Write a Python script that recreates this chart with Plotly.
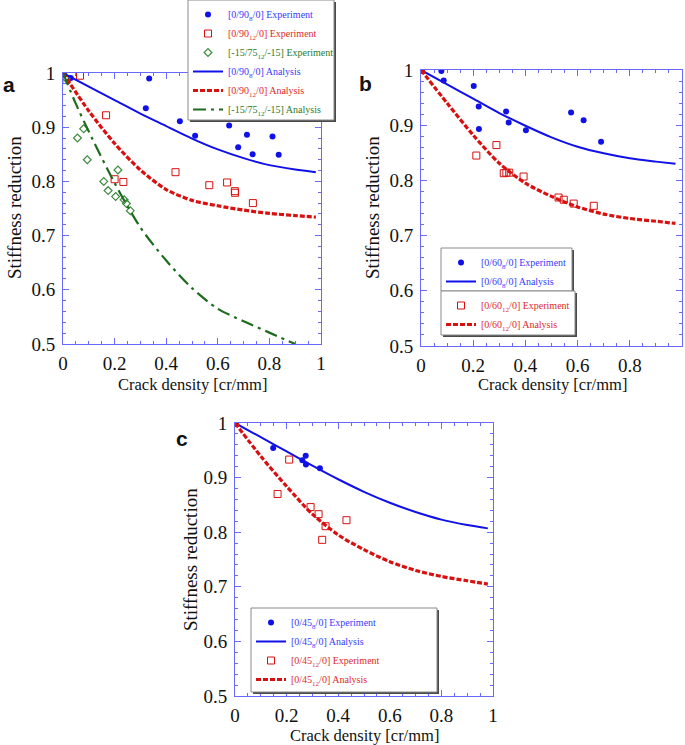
import plotly.graph_objects as go

W, H = 685, 745

# ---------------- Panel a data ----------------
a_exp8_x = [0, 0.03, 0.321, 0.334, 0.453, 0.512, 0.644, 0.679, 0.713, 0.735, 0.812, 0.836]
a_exp8_y = [1, 0.991, 0.935, 0.990, 0.911, 0.884, 0.903, 0.863, 0.886, 0.850, 0.883, 0.849]
a_exp12_x = [0, 0.013, 0.066, 0.167, 0.200, 0.234, 0.436, 0.567, 0.636, 0.666, 0.667, 0.736]
a_exp12_y = [1, 0.987, 0.995, 0.922, 0.804, 0.799, 0.817, 0.793, 0.798, 0.782, 0.779, 0.760]
a_expg_x = [0, 0.012, 0.056, 0.080, 0.094, 0.158, 0.175, 0.204, 0.213, 0.237, 0.246, 0.261]
a_expg_y = [1, 0.990, 0.880, 0.897, 0.840, 0.800, 0.783, 0.772, 0.821, 0.766, 0.759, 0.746]
a_an_x = [0, 0.1, 0.2, 0.3, 0.4, 0.5, 0.6, 0.7, 0.8, 0.9, 0.98]
a_an8_y = [1, 0.975, 0.950, 0.925, 0.902, 0.879, 0.859, 0.843, 0.830, 0.822, 0.817]
a_an12_y = [1, 0.930, 0.870, 0.821, 0.785, 0.765, 0.755, 0.747, 0.741, 0.737, 0.734]
a_ang_x = [0, 0.05, 0.1, 0.2, 0.3, 0.4, 0.5, 0.6, 0.7, 0.8, 0.9]
a_ang_y = [1, 0.943, 0.892, 0.797, 0.715, 0.654, 0.603, 0.565, 0.542, 0.521, 0.500]

# ---------------- Panel b data ----------------
b_exp8_x = [0, 0.078, 0.087, 0.202, 0.221, 0.222, 0.326, 0.336, 0.402, 0.575, 0.623, 0.690]
b_exp8_y = [1, 0.998, 0.981, 0.971, 0.934, 0.893, 0.925, 0.905, 0.891, 0.923, 0.909, 0.870]
b_exp12_x = [0, 0.212, 0.289, 0.317, 0.327, 0.338, 0.393, 0.527, 0.547, 0.585, 0.662]
b_exp12_y = [1, 0.845, 0.864, 0.813, 0.814, 0.814, 0.807, 0.769, 0.765, 0.758, 0.754]
b_an_x = [0, 0.1, 0.2, 0.3, 0.4, 0.5, 0.6, 0.7, 0.8, 0.9, 0.975]
b_an8_y = [1, 0.974, 0.948, 0.922, 0.899, 0.878, 0.861, 0.849, 0.840, 0.834, 0.830]
b_an12_y = [1, 0.940, 0.882, 0.831, 0.795, 0.771, 0.752, 0.739, 0.731, 0.726, 0.722]

# ---------------- Panel c data ----------------
c_exp8_x = [0, 0.148, 0.261, 0.274, 0.275, 0.329]
c_exp8_y = [1, 0.954, 0.932, 0.940, 0.924, 0.917]
c_exp12_x = [0, 0.165, 0.210, 0.293, 0.324, 0.338, 0.351, 0.432]
c_exp12_y = [1, 0.870, 0.933, 0.846, 0.833, 0.786, 0.811, 0.822]
c_an_x = [0, 0.1, 0.2, 0.3, 0.4, 0.5, 0.6, 0.7, 0.8, 0.9, 0.98]
c_an8_y = [1, 0.974, 0.948, 0.922, 0.897, 0.874, 0.854, 0.837, 0.823, 0.813, 0.807]
c_an12_y = [1, 0.939, 0.884, 0.833, 0.795, 0.768, 0.746, 0.730, 0.719, 0.711, 0.705]

# tick labels
x_ticks = [0, 0.2, 0.4, 0.6, 0.8, 1]
x_ticklabels = ["0", "0.2", "0.4", "0.6", "0.8", "1"]
y_ticks = [0.5, 0.6, 0.7, 0.8, 0.9, 1]
y_ticklabels = ["0.5", "0.6", "0.7", "0.8", "0.9", "1"]

BLUE = "#1010e8"
RED = "#d81010"
GREEN = "#1d6b1d"
BLUE_T = "#3a3aff"
RED_T = "#e02a2a"
GREEN_T = "#2a7a2a"
AXC = "#6a6aff"
SERIF = "Liberation Serif"
SANS = "Liberation Sans"


def px(x):
    return x / W


def py(y):
    return 1 - y / H


def lbl(text, color):
    return f'<span style="color:{color}">{text}</span>'


fig = go.Figure()

def dots(x, y, name, axis, legend, color=BLUE):
    fig.add_trace(go.Scatter(x=x, y=y, mode="markers", name=name,
                             marker=dict(symbol="circle", size=6, color=color),
                             xaxis="x" + axis, yaxis="y" + axis, legend=legend))

def squares(x, y, name, axis, legend):
    fig.add_trace(go.Scatter(x=x, y=y, mode="markers", name=name,
                             marker=dict(symbol="square-open", size=7, color=RED,
                                         line=dict(width=1, color=RED)),
                             xaxis="x" + axis, yaxis="y" + axis, legend=legend))

def solid(x, y, name, axis, legend):
    fig.add_trace(go.Scatter(x=x, y=y, mode="lines", name=name,
                             line=dict(color=BLUE, width=2, shape="spline", smoothing=0.8),
                             xaxis="x" + axis, yaxis="y" + axis, legend=legend))

def dashed(x, y, name, axis, legend):
    fig.add_trace(go.Scatter(x=x, y=y, mode="lines", name=name,
                             line=dict(color=RED, width=3.2, dash="5px,2px", shape="spline", smoothing=0.8),
                             xaxis="x" + axis, yaxis="y" + axis, legend=legend))

# Panel a (axis suffix "")
dots(a_exp8_x, a_exp8_y, lbl("[0/90<sub>8</sub>/0] Experiment", BLUE_T), "", "legend")
squares(a_exp12_x, a_exp12_y, lbl("[0/90<sub>12</sub>/0] Experiment", RED_T), "", "legend")
fig.add_trace(go.Scatter(x=a_expg_x, y=a_expg_y, mode="markers",
                         name=lbl("[-15/75<sub>12</sub>/-15] Experiment", GREEN_T),
                         marker=dict(symbol="diamond-open", size=6, color="#3d8a3d",
                                     line=dict(width=1.2, color="#3d8a3d")),
                         xaxis="x", yaxis="y", legend="legend"))
solid(a_an_x, a_an8_y, lbl("[0/90<sub>8</sub>/0] Analysis", BLUE_T), "", "legend")
dashed(a_an_x, a_an12_y, lbl("[0/90<sub>12</sub>/0] Analysis", RED_T), "", "legend")
fig.add_trace(go.Scatter(x=a_ang_x, y=a_ang_y, mode="lines",
                         name=lbl("[-15/75<sub>12</sub>/-15] Analysis", GREEN_T),
                         line=dict(color=GREEN, width=2.2, dash="13px,5px,3px,5px",
                                   shape="spline", smoothing=0.8),
                         xaxis="x", yaxis="y", legend="legend"))

# Panel b
dots(b_exp8_x, b_exp8_y, lbl("[0/60<sub>8</sub>/0] Experiment", BLUE_T), "2", "legend2")
solid(b_an_x, b_an8_y, lbl("[0/60<sub>8</sub>/0] Analysis", BLUE_T), "2", "legend2")
squares(b_exp12_x, b_exp12_y, lbl("[0/60<sub>12</sub>/0] Experiment", RED_T), "2", "legend3")
dashed(b_an_x, b_an12_y, lbl("[0/60<sub>12</sub>/0] Analysis", RED_T), "2", "legend3")

# Panel c
dots(c_exp8_x, c_exp8_y, lbl("[0/45<sub>8</sub>/0] Experiment", BLUE_T), "3", "legend4")
solid(c_an_x, c_an8_y, lbl("[0/45<sub>8</sub>/0] Analysis", BLUE_T), "3", "legend4")
squares(c_exp12_x, c_exp12_y, lbl("[0/45<sub>12</sub>/0] Experiment", RED_T), "3", "legend4")
dashed(c_an_x, c_an12_y, lbl("[0/45<sub>12</sub>/0] Analysis", RED_T), "3", "legend4")

def xax(domain, anchor):
    return dict(domain=domain, anchor=anchor, range=[0, 1], tickvals=x_ticks, ticktext=x_ticklabels,
                ticks="inside", ticklen=6, tickcolor=AXC, showline=True, linecolor=AXC, linewidth=1,
                mirror="allticks", showgrid=False, zeroline=False, automargin=False,
                minor=dict(dtick=0.05, ticks="inside", ticklen=3, tickcolor=AXC, showgrid=False),
                tickfont=dict(family=SERIF, size=19, color="#111"), ticklabelstandoff=2)

def yax(domain, anchor):
    return dict(domain=domain, anchor=anchor, range=[0.5, 1], tickvals=y_ticks, ticktext=y_ticklabels,
                ticks="inside", ticklen=6, tickcolor=AXC, showline=True, linecolor=AXC, linewidth=1,
                mirror="allticks", showgrid=False, zeroline=False, automargin=False,
                minor=dict(dtick=0.02, ticks="inside", ticklen=3, tickcolor=AXC, showgrid=False),
                tickfont=dict(family=SERIF, size=19, color="#111"), ticklabelstandoff=3)

leg_common = dict(bgcolor="rgba(0,0,0,0)", borderwidth=0,
                  font=dict(family=SERIF, size=10), xanchor="left", yanchor="top",
                  itemwidth=30, tracegroupgap=0)

# legend frames (white box with grey border and a dark drop shadow)
frames = [(188, 0, 334, 120), (441, 248, 572, 291), (441, 291, 575, 335), (251, 608, 437, 692)]
shapes = []
for (x0, y0, x1, y1) in frames:
    shapes.append(dict(type="rect", xref="paper", yref="paper", layer="above",
                       x0=px(x0 + 2), x1=px(x1 + 2), y0=py(y1 + 2), y1=py(y0 + 2),
                       fillcolor="#4a4a4a", line=dict(width=0)))
    shapes.append(dict(type="rect", xref="paper", yref="paper", layer="above",
                       x0=px(x0), x1=px(x1), y0=py(y1), y1=py(y0),
                       fillcolor="white", line=dict(width=1, color="#8a8a8a")))

annotations = []
def ann(text, x, y, size, angle=0, family=SERIF):
    annotations.append(dict(text=text, x=px(x), y=py(y), xref="paper", yref="paper",
                            showarrow=False, textangle=angle, xanchor="center", yanchor="middle",
                            font=dict(family=family, size=size, color="#111")))

ann("<b>a</b>", 9, 85, 21, family=SANS)
ann("<b>b</b>", 365, 84, 21, family=SANS)
ann("<b>c</b>", 182, 438, 21, family=SANS)
ann("Stiffness reduction", 15, 208, 19, angle=-90)
ann("Stiffness reduction", 373, 208, 19, angle=-90)
ann("Stiffness reduction", 190, 560, 19, angle=-90)
ann("Crack density [cr/mm]", 192, 384, 16.5)
ann("Crack density [cr/mm]", 552, 384, 16.5)
ann("Crack density [cr/mm]", 364, 735, 16.5)

fig.update_layout(
    width=W, height=H, autosize=False,
    margin=dict(l=0, r=0, t=0, b=0, pad=0, autoexpand=False),
    paper_bgcolor="white", plot_bgcolor="white",
    showlegend=True,
    xaxis=xax([px(63), px(321)], "y"),
    yaxis=yax([py(344), py(73)], "x"),
    xaxis2=xax([px(421), px(682)], "y2"),
    yaxis2=yax([py(346), py(70)], "x2"),
    xaxis3=xax([px(235), px(493)], "y3"),
    yaxis3=yax([py(696), py(423)], "x3"),
    legend=dict(x=px(188), y=py(0), **leg_common),
    legend2=dict(x=px(441), y=py(248), **leg_common),
    legend3=dict(x=px(441), y=py(291), **leg_common),
    legend4=dict(x=px(251), y=py(608), **leg_common),
    shapes=shapes,
    annotations=annotations,
)

fig.write_html("out.html", config={"displayModeBar": False},
               post_script="document.body.style.margin='0px';document.body.style.padding='0px';"
                           "document.body.style.overflow='hidden';")
